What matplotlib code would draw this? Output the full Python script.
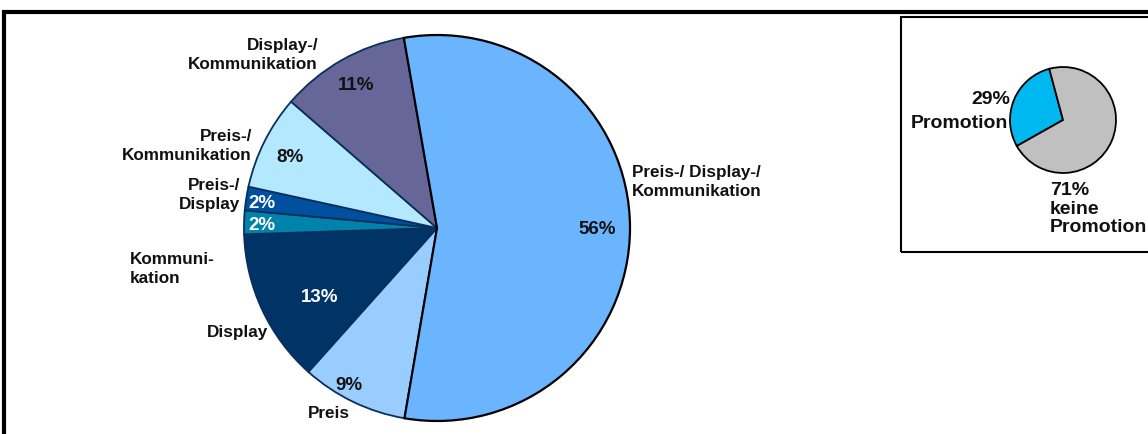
import matplotlib.pyplot as plt
from matplotlib.patches import Rectangle

# main pie: share of promotion types (clockwise from top)
segments = ["Preis-/ Display-/\nKommunikation", "Preis", "Display", "Kommunikation",
            "Preis-/ Display", "Preis-/ Kommunikation", "Display-/ Kommunikation"]
shares = [56, 9, 13, 2, 2, 8, 11]
colors = ["#6BB5FF", "#99CCFF", "#003366", "#0082AA", "#0050A0", "#B3E8FF", "#666699"]

# inset pie: promotion vs. none
promo_labels = ["Promotion", "keine Promotion"]
promo_shares = [29, 71]
promo_colors = ["#00B8F0", "#C0C0C0"]

W, H = 1148, 434
fig = plt.figure(figsize=(W / 100, H / 100), dpi=100)
ax = fig.add_axes([0, 0, 1, 1])
ax.axis("off")

plt.rcParams["font.family"] = ["Liberation Sans", "DejaVu Sans"]

def py(y):
    # picture pixel row -> data y
    return H - y

# outer frame
ax.add_patch(Rectangle((4, -20), 1300, py(12) + 20, fill=False, lw=3, ec="black"))

wedges, _ = ax.pie(shares, colors=colors, startangle=99.9, counterclock=False,
                   center=(437, py(228)), radius=193,
                   wedgeprops=dict(edgecolor="#0a2f5c", linewidth=1.3))
# the big slice is outlined in black, drawn on top
wedges[0].set_edgecolor("black")
wedges[0].set_linewidth(1.6)
wedges[0].set_zorder(3)

txt = "#111111"
bold = dict(fontsize=12.3, fontweight="bold")
pbold = dict(fontsize=13.5, fontweight="bold")

# percent labels
pct_pos = [(597, 229, txt), (349, 385, txt), (320, 298, "white"),
           (262, 226, "white"), (262, 203, "white"), (290, 158, txt), (356, 86, txt)]
for v, (x, y, c) in zip(shares, pct_pos):
    ax.text(x, py(y), f"{v}%", color=c, ha="center", va="center", zorder=5, **pbold)

# category labels
ls = 1.3
ax.text(632, py(182), "Preis-/ Display-/\nKommunikation", ha="left", va="center", linespacing=ls, color=txt, **bold)
ax.text(329, py(413), "Preis", ha="center", va="center", color=txt, **bold)
ax.text(238, py(333), "Display", ha="center", va="center", color=txt, **bold)
ax.text(130, py(269), "Kommuni-\nkation", ha="left", va="center", linespacing=ls, color=txt, **bold)
ax.text(240, py(195), "Preis-/\nDisplay", ha="right", va="center", linespacing=ls, color=txt, **bold)
ax.text(252, py(146), "Preis-/\nKommunikation", ha="right", va="center", linespacing=ls, color=txt, **bold)
ax.text(318, py(55), "Display-/\nKommunikation", ha="right", va="center", linespacing=ls, color=txt, **bold)

# inset box and pie
ax.add_patch(Rectangle((901, py(252)), 300, 235, fill=False, lw=1.5, ec="black"))
ax.pie(promo_shares, colors=promo_colors, startangle=105, counterclock=True,
       center=(1063, py(120)), radius=53,
       wedgeprops=dict(edgecolor="black", linewidth=1.3))

ibold = dict(fontsize=14, fontweight="bold")
ax.text(1010, py(100), f"{promo_shares[0]}%", ha="right", va="center", color=txt, **ibold)
ax.text(1008, py(123), promo_labels[0], ha="right", va="center", color=txt, **ibold)
ax.text(1050, py(209), f"{promo_shares[1]}%\nkeine\nPromotion", ha="left", va="center",
        linespacing=1.08, color=txt, **ibold)

ax.set_xlim(0, W)
ax.set_ylim(0, H)
ax.set_aspect("equal")

fig.savefig("out.png", dpi=100)
